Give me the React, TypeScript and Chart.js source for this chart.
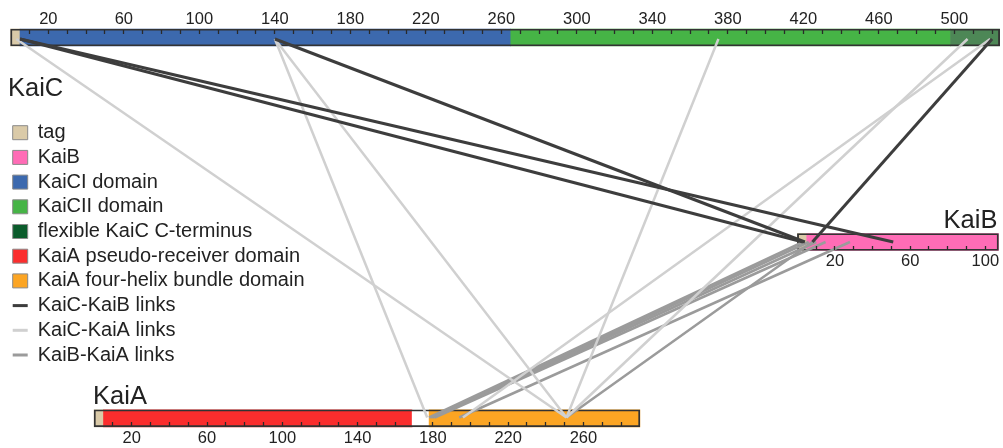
import React, { useEffect, useRef } from 'react';
import { Chart, registerables } from 'chart.js';

Chart.register(...registerables);

const FONT = '"Liberation Sans", Arial, Helvetica, sans-serif';

// ---------- data: protein lengths (residues) ----------
const KAIC_LENGTH = 524;
const KAIB_LENGTH = 107;
const KAIA_LENGTH = 290;

// ---------- data: domain segments [from, to, domain] ----------
const KAIC_SEGMENTS: [number, number, string][] = [
  [0, 5, 'tag'],
  [5, 265, 'KaiCI domain'],
  [265, 498, 'KaiCII domain'],
  [498, 524, 'flexible KaiC C-terminus'],
];
const KAIB_SEGMENTS: [number, number, string][] = [
  [0, 5, 'tag'],
  [5, 107, 'KaiB'],
];
const KAIA_SEGMENTS: [number, number, string][] = [
  [0, 5, 'tag'],
  [5, 169, 'KaiA pseudo-receiver domain'],
  [169, 178, 'linker'],
  [178, 290, 'KaiA four-helix bundle domain'],
];

// ---------- data: cross-links [residue on first protein, residue on second] ----------
const KAIC_KAIB_LINKS: [number, number][] = [
  [5, 51],
  [5, 3],
  [140, 4],
  [520, 8],
];
const KAIC_KAIA_LINKS: [number, number][] = [
  [3, 251],
  [140, 177],
  [140, 251],
  [375, 251],
  [507, 251],
  [519, 196],
];
const KAIB_KAIA_LINKS: [number, number][] = [
  [3, 178],
  [6, 179],
  [10, 180],
  [15, 181],
  [28, 194],
  [8, 251],
];

// ---------- tick values ----------
const KAIC_TICKS = [10, 20, 30, 40, 50, 60, 70, 80, 90, 100, 110, 120, 130, 140, 150, 160, 170, 180, 190, 200, 210, 220, 230, 240, 250, 260, 270, 280, 290, 300, 310, 320, 330, 340, 350, 360, 370, 380, 390, 400, 410, 420, 430, 440, 450, 460, 470, 480, 490, 500, 510, 520];
const KAIC_TICK_LABELS = [20, 60, 100, 140, 180, 220, 260, 300, 340, 380, 420, 460, 500];
const KAIB_TICKS = [10, 20, 30, 40, 50, 60, 70, 80, 90, 100];
const KAIB_TICK_LABELS = [20, 60, 100];
const KAIA_TICKS = [10, 20, 30, 40, 50, 60, 70, 80, 90, 100, 110, 120, 130, 140, 150, 160, 180, 190, 200, 210, 220, 230, 240, 250, 260, 270, 280];
const KAIA_TICK_LABELS = [20, 60, 100, 140, 180, 220, 260];

// ---------- legend ----------
const LEGEND_BOXES = ['tag', 'KaiB', 'KaiCI domain', 'KaiCII domain', 'flexible KaiC C-terminus', 'KaiA pseudo-receiver domain', 'KaiA four-helix bundle domain'];
const LEGEND_LINKS = ['KaiC-KaiB links', 'KaiC-KaiA links', 'KaiB-KaiA links'];

// ---------- styles ----------
const DOMAIN_COLORS: Record<string, string> = {
  tag: '#dacaa8',
  KaiB: '#ff6cb6',
  'KaiCI domain': '#3c69ae',
  'KaiCII domain': '#46b446',
  'flexible KaiC C-terminus': '#4d8756',
  'KaiA pseudo-receiver domain': '#fb2d2d',
  linker: '#ffffff',
  'KaiA four-helix bundle domain': '#fca523',
};
const LEGEND_BOX_COLORS: Record<string, string> = { ...DOMAIN_COLORS, 'flexible KaiC C-terminus': '#0b5c2c' };
const LINK_COLORS: Record<string, string> = {
  'KaiC-KaiB links': '#3d3d3d',
  'KaiC-KaiA links': '#d0d0d0',
  'KaiB-KaiA links': '#9b9b9b',
};
const LINK_WIDTHS: Record<string, number> = {
  'KaiC-KaiB links': 3,
  'KaiC-KaiA links': 2.5,
  'KaiB-KaiA links': 2.5,
};

// ---------- layout ----------
const WIDTH = 1003;
const HEIGHT = 448;
const CHART_LEFT = 8;
const BAR_H = 17;
type Track = { x0: number; k: number; row: number; linkY: number; tickY: number; labelPad: number };
const TRACK_C: Track = { x0: 10.6, k: 1.8875, row: 37.5, linkY: 39, tickY: 30, labelPad: -24.9 };
const TRACK_B: Track = { x0: 797.4, k: 1.879, row: 242, linkY: 242, tickY: 245.5, labelPad: 2.3 };
const TRACK_A: Track = { x0: 94.1, k: 1.882, row: 418.3, linkY: 417.5, tickY: 421.8, labelPad: 2.6 };

// residue on one track expressed in another track's axis units
const convert = (res: number, from: Track, to: Track) => (from.x0 + from.k * res - to.x0) / to.k;

function xAxis(track: Track, ticks: number[], labels: number[]) {
  return {
    type: 'linear',
    axis: 'x',
    bounds: 'data',
    position: { y: track.tickY },
    min: (CHART_LEFT - track.x0) / track.k,
    max: (WIDTH - track.x0) / track.k,
    afterBuildTicks: (scale: any) => {
      scale.ticks = ticks.map((v) => ({ value: v }));
    },
    ticks: {
      autoSkip: false,
      maxRotation: 0,
      minRotation: 0,
      padding: track.labelPad,
      color: '#222',
      z: 1,
      font: { family: FONT, size: 16.5 },
      callback: (v: any) => (labels.includes(Number(v)) ? String(v) : ''),
    },
    grid: {
      display: true,
      drawOnChartArea: false,
      drawTicks: true,
      tickLength: 4,
      tickColor: '#2a2a2a',
      tickWidth: 1.3,
      z: 1,
    },
    border: { display: false },
  };
}

function segmentDataset(track: Track, axisId: string, segments: [number, number, string][]) {
  return {
    type: 'bar',
    indexAxis: 'y',
    xAxisID: axisId,
    yAxisID: 'y',
    grouped: false,
    barPercentage: 1,
    categoryPercentage: 1,
    maxBarThickness: BAR_H,
    borderWidth: 0,
    backgroundColor: segments.map((s) => DOMAIN_COLORS[s[2]]),
    data: segments.map((s) => ({ y: track.row, x: [s[0], s[1]] })),
    order: 3,
    clip: false,
  };
}

function outlineDataset(track: Track, axisId: string, length: number) {
  return {
    type: 'bar',
    indexAxis: 'y',
    xAxisID: axisId,
    yAxisID: 'y',
    grouped: false,
    barPercentage: 1,
    categoryPercentage: 1,
    maxBarThickness: BAR_H,
    borderWidth: 1.2,
    borderSkipped: false,
    borderColor: '#333333',
    backgroundColor: 'rgba(0,0,0,0)',
    data: [{ y: track.row, x: [0, length] }],
    order: 2,
    clip: false,
  };
}

function linkDatasets(links: [number, number][], from: Track, to: Track, axisId: string, kind: string) {
  return links.map(([a, b]) => ({
    type: 'line',
    xAxisID: axisId,
    yAxisID: 'y',
    borderColor: LINK_COLORS[kind],
    borderWidth: LINK_WIDTHS[kind],
    pointRadius: 0,
    fill: false,
    tension: 0,
    order: 1,
    clip: false,
    data: [
      { x: a, y: from.linkY },
      { x: convert(b, to, from), y: to.linkY },
    ],
  }));
}

const namesPlugin = {
  id: 'proteinNames',
  afterDraw(chart: any) {
    const { ctx, scales } = chart;
    ctx.save();
    ctx.fillStyle = '#222';
    ctx.font = `25.5px ${FONT}`;
    ctx.textBaseline = 'alphabetic';
    ctx.textAlign = 'right';
    ctx.fillText('KaiB', scales.xB.getPixelForValue(KAIB_LENGTH) - 1, scales.y.getPixelForValue(TRACK_B.row - BAR_H / 2 - 6));
    ctx.textAlign = 'left';
    ctx.fillText('KaiA', scales.xA.getPixelForValue(0) - 1, scales.y.getPixelForValue(TRACK_A.row - BAR_H / 2 - 6));
    ctx.restore();
  },
};

export default function App() {
  const canvasRef = useRef<HTMLCanvasElement | null>(null);

  useEffect(() => {
    if (!canvasRef.current) return;
    const legendItems = [
      ...LEGEND_BOXES.map((name) => ({
        text: name,
        fillStyle: LEGEND_BOX_COLORS[name],
        strokeStyle: '#8a8a8a',
        lineWidth: 1,
        pointStyle: 'rect',
        hidden: false,
        fontColor: '#222',
      })),
      ...LEGEND_LINKS.map((name) => ({
        text: name,
        fillStyle: LINK_COLORS[name],
        strokeStyle: LINK_COLORS[name],
        lineWidth: 3,
        pointStyle: 'line',
        hidden: false,
        fontColor: '#222',
      })),
    ];

    const datasets: any[] = [
      ...linkDatasets(KAIC_KAIB_LINKS, TRACK_C, TRACK_B, 'xC', 'KaiC-KaiB links'),
      ...linkDatasets(KAIC_KAIA_LINKS, TRACK_C, TRACK_A, 'xC', 'KaiC-KaiA links'),
      ...linkDatasets(KAIB_KAIA_LINKS, TRACK_B, TRACK_A, 'xB', 'KaiB-KaiA links'),
      outlineDataset(TRACK_C, 'xC', KAIC_LENGTH),
      outlineDataset(TRACK_B, 'xB', KAIB_LENGTH),
      outlineDataset(TRACK_A, 'xA', KAIA_LENGTH),
      segmentDataset(TRACK_C, 'xC', KAIC_SEGMENTS),
      segmentDataset(TRACK_B, 'xB', KAIB_SEGMENTS),
      segmentDataset(TRACK_A, 'xA', KAIA_SEGMENTS),
    ];

    const chart = new Chart(canvasRef.current, {
      type: 'scatter',
      data: { datasets },
      options: {
        responsive: false,
        maintainAspectRatio: false,
        animation: false,
        events: [],
        layout: { padding: { left: CHART_LEFT, top: 0, right: 0, bottom: 0 } },
        scales: {
          y: { type: 'linear', axis: 'y', display: false, min: 0, max: HEIGHT, reverse: true, offset: false, bounds: 'data' },
          xC: xAxis(TRACK_C, KAIC_TICKS, KAIC_TICK_LABELS),
          xB: xAxis(TRACK_B, KAIB_TICKS, KAIB_TICK_LABELS),
          xA: xAxis(TRACK_A, KAIA_TICKS, KAIA_TICK_LABELS),
        },
        plugins: {
          tooltip: { enabled: false },
          legend: {
            display: true,
            position: 'chartArea',
            align: 'start',
            title: {
              display: true,
              text: 'KaiC',
              position: 'start',
              color: '#222',
              font: { family: FONT, size: 25.5 },
              padding: { top: 76, bottom: 11.4 },
            },
            labels: {
              usePointStyle: true,
              pointStyleWidth: 15,
              boxHeight: 14,
              padding: 4.7,
              color: '#222',
              font: { family: FONT, size: 20 },
              generateLabels: () => legendItems,
            },
          },
        },
      } as any,
      plugins: [namesPlugin],
    } as any);
    return () => chart.destroy();
  }, []);

  return (
    <div style={{ position: 'fixed', left: 0, top: 0, width: WIDTH, height: HEIGHT, background: '#fff' }}>
      <canvas ref={canvasRef} width={WIDTH} height={HEIGHT} style={{ display: 'block' }} />
    </div>
  );
}
